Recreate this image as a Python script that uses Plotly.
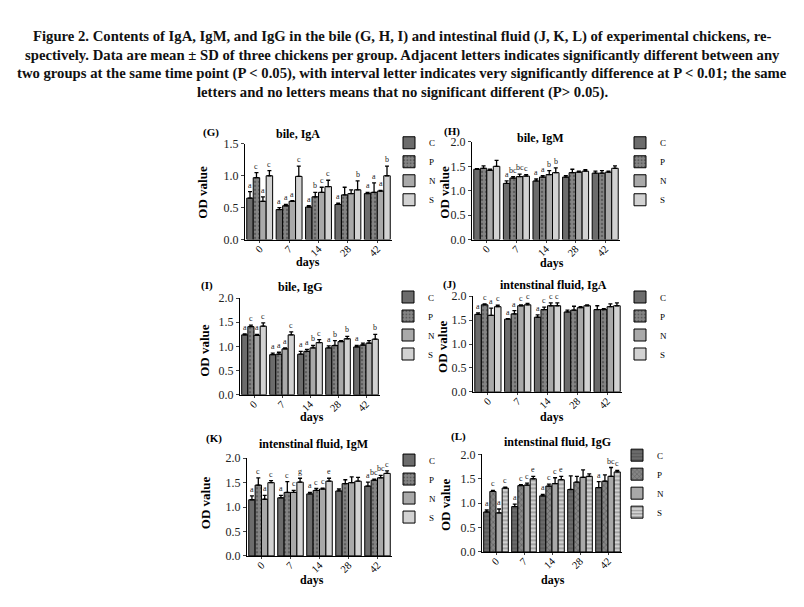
import plotly.graph_objects as go

days = ["0", "7", "14", "28", "42"]
groups = ["C", "P", "N", "S"]

# (G) bile, IgA  -- rows: C, P, N, S ; columns: days
bile_IgA_mean = [[0.65, 0.47, 0.51, 0.55, 0.72], [0.97, 0.53, 0.67, 0.70, 0.74],
                 [0.60, 0.60, 0.74, 0.72, 0.76], [1.00, 0.99, 0.83, 0.78, 1.00]]
bile_IgA_sd = [[0.10, 0.03, 0.02, 0.02, 0.02], [0.08, 0.02, 0.07, 0.12, 0.15],
               [0.07, 0.01, 0.08, 0.06, 0.01], [0.08, 0.16, 0.10, 0.14, 0.15]]
bile_IgA_sig = [["a", "a", "a", "a", "a"], ["c", "a", "b", "", "a"],
                ["a", "a", "c", "", "a"], ["c", "c", "c", "b", "b"]]

# (H) bile, IgM
bile_IgM_mean = [[1.44, 1.15, 1.20, 1.28, 1.36], [1.46, 1.26, 1.28, 1.37, 1.36],
                 [1.42, 1.29, 1.33, 1.38, 1.38], [1.50, 1.30, 1.37, 1.40, 1.46]]
bile_IgM_sd = [[0.01, 0.05, 0.04, 0.03, 0.04], [0.05, 0.03, 0.03, 0.07, 0.05],
               [0.02, 0.05, 0.08, 0.02, 0.02], [0.12, 0.03, 0.10, 0.03, 0.05]]
bile_IgM_sig = [["", "a", "a", "", ""], ["", "bc", "a", "", ""],
                ["", "bc", "b", "", ""], ["", "c", "b", "", ""]]

# (I) bile, IgG
bile_IgG_mean = [[1.24, 0.83, 0.84, 0.97, 0.99], [1.41, 0.84, 0.90, 1.02, 1.03],
                 [1.23, 0.95, 0.97, 1.10, 1.07], [1.42, 1.24, 1.08, 1.16, 1.15]]
bile_IgG_sd = [[0.02, 0.03, 0.06, 0.04, 0.03], [0.03, 0.04, 0.04, 0.10, 0.04],
               [0.02, 0.02, 0.05, 0.02, 0.05], [0.07, 0.06, 0.06, 0.05, 0.10]]
bile_IgG_sig = [["a", "a", "a", "a", "a"], ["c", "a", "a", "b", ""],
                ["a", "a", "b", "", ""], ["c", "c", "c", "b", "b"]]

# (J) intestinal fluid, IgA
int_IgA_mean = [[1.62, 1.52, 1.56, 1.67, 1.72], [1.82, 1.63, 1.72, 1.71, 1.72],
                [1.60, 1.80, 1.80, 1.76, 1.78], [1.78, 1.82, 1.80, 1.80, 1.80]]
int_IgA_sd = [[0.03, 0.01, 0.05, 0.04, 0.08], [0.02, 0.07, 0.05, 0.08, 0.02],
              [0.15, 0.02, 0.06, 0.02, 0.06], [0.03, 0.03, 0.06, 0.02, 0.06]]
int_IgA_sig = [["a", "a", "a", "", ""], ["c", "a", "c", "", ""],
               ["a", "c", "c", "", ""], ["c", "c", "c", "", ""]]

# (K) intestinal fluid, IgM
int_IgM_mean = [[1.15, 1.19, 1.27, 1.33, 1.43], [1.45, 1.30, 1.34, 1.48, 1.55],
                [1.16, 1.30, 1.37, 1.50, 1.60], [1.50, 1.51, 1.53, 1.53, 1.69]]
int_IgM_sd = [[0.08, 0.05, 0.03, 0.04, 0.08], [0.15, 0.22, 0.04, 0.08, 0.02],
              [0.08, 0.04, 0.02, 0.12, 0.05], [0.04, 0.08, 0.06, 0.08, 0.05]]
int_IgM_sig = [["a", "a", "a", "", "a"], ["c", "c", "c", "", "bc"],
               ["a", "c", "c", "", "bc"], ["c", "g", "e", "", "c"]]

# (L) intestinal fluid, IgG
int_IgG_mean = [[0.82, 0.93, 1.15, 1.28, 1.32], [1.24, 1.36, 1.35, 1.43, 1.45],
                [0.80, 1.37, 1.40, 1.53, 1.55], [1.31, 1.50, 1.48, 1.55, 1.64]]
int_IgG_sd = [[0.04, 0.05, 0.03, 0.28, 0.12], [0.02, 0.02, 0.04, 0.12, 0.13],
              [0.08, 0.04, 0.12, 0.15, 0.18], [0.02, 0.05, 0.07, 0.05, 0.03]]
int_IgG_sig = [["a", "a", "a", "", "a"], ["c", "c", "c", "", ""],
               ["a", "c", "c", "", "bc"], ["c", "e", "e", "", "c"]]

caption_lines = [
    "Figure 2. Contents of IgA, IgM, and IgG in the bile (G, H, I) and intestinal fluid (J, K, L) of experimental chickens, re-",
    "spectively. Data are mean ± SD of three chickens per group. Adjacent letters indicates significantly different between any",
    "two groups at the same time point (P < 0.05), with interval letter indicates very significantly difference at P < 0.01; the same",
    "letters and no letters means that no significant different (P> 0.05).",
]

# page is 804x607; the html body adds an 8px margin around the figure
OFF = 8
W, H = 804 - 2 * OFF, 607 - 2 * OFF
SERIF = "Liberation Serif, Times New Roman, serif"

fills = ["#6c6c6c", "#858585", "#a9a9a9", "#d2d2d2"]
patterns = ["", ".", "", ""]
patterns_L = ["-", "x", "", "-"]

# panel geometry in page pixels: axis left, right, y-top (at ymax), y-bottom (0)
panels = [
    dict(tag="(G)", title="bile, IgA", mean=bile_IgA_mean, sd=bile_IgA_sd, sig=bile_IgA_sig,
         ymax=1.5, box=(245, 392, 140, 238), tagxy=(211, 128), titlexy=(298, 130),
         ylabxy=(203, 190), daysxy=(308, 261), legxy=(389, 124)),
    dict(tag="(H)", title="bile, IgM", mean=bile_IgM_mean, sd=bile_IgM_sd, sig=bile_IgM_sig,
         ymax=2.0, box=(472, 620, 138, 238), tagxy=(452, 127), titlexy=(540, 134),
         ylabxy=(445, 190), daysxy=(552, 262), legxy=(620, 124)),
    dict(tag="(I)", title="bile, IgG", mean=bile_IgG_mean, sd=bile_IgG_sd, sig=bile_IgG_sig,
         ymax=2.0, box=(240, 380, 298, 397), tagxy=(207, 285), titlexy=(300, 287),
         ylabxy=(205, 352), daysxy=(312, 420), legxy=(388, 282)),
    dict(tag="(J)", title="intenstinal fluid, IgA", mean=int_IgA_mean, sd=int_IgA_sd, sig=int_IgA_sig,
         ymax=2.0, box=(473, 622, 296, 394), tagxy=(450, 284), titlexy=(553, 285),
         ylabxy=(443, 347), daysxy=(552, 420), legxy=(620, 282)),
    dict(tag="(K)", title="intenstinal fluid, IgM", mean=int_IgM_mean, sd=int_IgM_sd, sig=int_IgM_sig,
         ymax=2.0, box=(247, 392, 462, 562), tagxy=(214, 442), titlexy=(313, 447),
         ylabxy=(205, 508), daysxy=(312, 587), legxy=(389, 449)),
    dict(tag="(L)", title="intenstinal fluid, IgG", mean=int_IgG_mean, sd=int_IgG_sd, sig=int_IgG_sig,
         ymax=2.0, box=(482, 622, 458, 558), tagxy=(458, 440), titlexy=(557, 445),
         ylabxy=(445, 510), daysxy=(553, 587), legxy=(617, 444)),
]

def px(x):
    return (x - OFF) / W

def py(y):
    return 1 - (y - OFF) / H

BARGAP = 0.12
bw = (1 - BARGAP) / 4

fig = go.Figure()
layout = dict(width=W, height=H, margin=dict(l=0, r=0, t=0, b=0),
              paper_bgcolor="white", plot_bgcolor="white", barmode="group",
              bargap=BARGAP, bargroupgap=0, showlegend=True,
              font=dict(family=SERIF, color="black"))
annotations = []

def label(x, y, text, size, angle=0, color="black"):
    return dict(x=px(x), y=py(y), xref="paper", yref="paper", text=text, showarrow=False,
                xanchor="center", yanchor="middle", textangle=angle,
                font=dict(size=size, family=SERIF, color=color))

for k, p in enumerate(panels):
    n = "" if k == 0 else str(k + 1)
    xa, ya = "x" + n, "y" + n
    leg = "legend" + n
    pats = patterns_L if k == 5 else patterns
    for g in range(4):
        fig.add_trace(go.Bar(
            x=list(range(len(days))), y=p["mean"][g], name=groups[g],
            xaxis=xa, yaxis=ya, legend=leg,
            marker=dict(color=fills[g], line=dict(color="black", width=1),
                        pattern=dict(shape=pats[g], fgcolor="#333333", size=4, solidity=0.3)),
            error_y=dict(type="data", array=p["sd"][g], arrayminus=[0] * len(days),
                         symmetric=False, color="black", thickness=1.3, width=2),
        ))
        for d in range(len(days)):
            t = p["sig"][g][d]
            if t:
                annotations.append(dict(
                    x=d + (g - 1.5) * bw, y=p["mean"][g][d] + p["sd"][g][d],
                    xref=xa, yref=ya, text=t, showarrow=False, xanchor="center", yanchor="bottom",
                    font=dict(size=8, family=SERIF, color="#222")))
    l, r, t_, b = p["box"]
    layout["xaxis" + n] = dict(domain=[px(l), px(r)], anchor=ya, range=[-0.5, 4.5],
                               tickvals=list(range(len(days))), ticktext=days, tickangle=-45,
                               showline=True, linecolor="black", linewidth=1.2,
                               ticks="outside", ticklen=2, ticklabelstandoff=-4,
                               showgrid=False, zeroline=False,
                               tickfont=dict(size=10.5, family=SERIF))
    layout["yaxis" + n] = dict(domain=[py(b), py(t_)], anchor=xa, range=[0, p["ymax"]],
                               dtick=0.5, tickformat=".1f",
                               showline=True, linecolor="black", linewidth=1.2,
                               ticks="outside", ticklen=3, showgrid=False, zeroline=False,
                               tickfont=dict(size=12, family=SERIF, color="#222"))
    lx, ly = p["legxy"]
    layout[leg] = dict(x=px(lx), y=py(ly), xanchor="left", yanchor="top",
                       bgcolor="rgba(0,0,0,0)", tracegroupgap=0,
                       font=dict(size=9, family=SERIF), itemwidth=30)
    annotations += [
        label(*p["tagxy"], "<b>" + p["tag"] + "</b>", 11),
        label(*p["titlexy"], "<b>" + p["title"] + "</b>", 12),
        label(*p["ylabxy"], "<b>OD value</b>", 13, angle=-90),
        label(*p["daysxy"], "<b>days</b>", 12),
    ]

cap_y = [30, 49, 68, 87]
for line, yy in zip(caption_lines, cap_y):
    annotations.append(label(402, yy, "<b>" + line + "</b>", 14.7, color="#111"))

layout["annotations"] = annotations
fig.update_layout(**layout)
fig.write_html("out.html")
